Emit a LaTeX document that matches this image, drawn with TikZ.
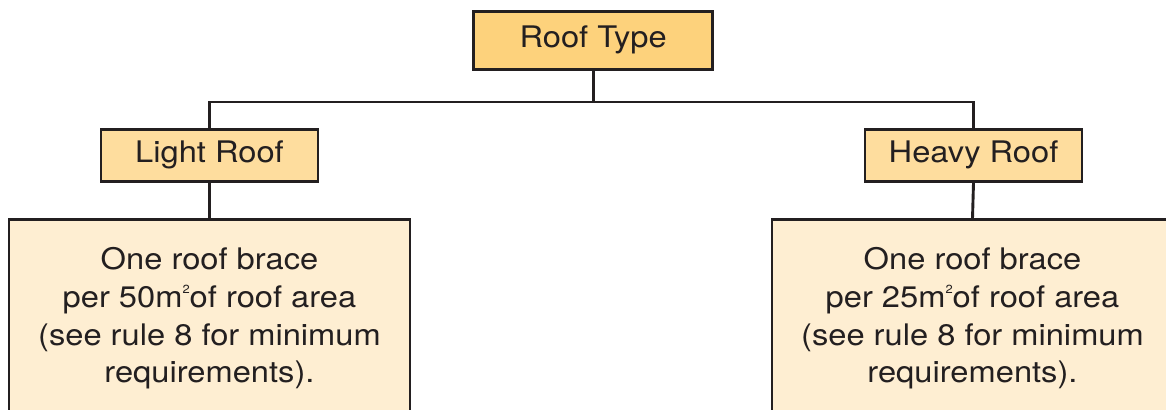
\documentclass[tikz,border=0pt]{standalone}
\usepackage{fontspec}
\setmainfont{TeX Gyre Heros}[FakeStretch=1.1]
\definecolor{linecol}{HTML}{231F20}
\definecolor{topfill}{HTML}{FDD27C}
\definecolor{midfill}{HTML}{FEDD9E}
\definecolor{leaffill}{HTML}{FEEED2}
\newcommand{\sqm}{m\raisebox{8pt}{\fontsize{6.7pt}{7pt}\selectfont 2}}
\begin{document}
\begin{tikzpicture}[x=0.02cm,y=-0.02cm,
  every node/.style={font=\fontsize{16.9pt}{21.4pt}\selectfont, text=linecol},
  box/.style={draw=linecol, line width=1.65pt, inner sep=0pt, align=center},
  topbox/.style={box, fill=topfill, minimum width=4.78cm, minimum height=1.16cm},
  midbox/.style={box, fill=midfill, minimum width=4.34cm, minimum height=1.05cm},
  leafbox/.style={box, fill=leaffill, minimum width=8.02cm, minimum height=3.96cm},
  conn/.style={draw=linecol, line width=1.65pt}]
\useasboundingbox (0,0) rectangle (1166,409);
\clip (0,0) rectangle (1166,409);
\node[topbox] (rt) at (593.2,40.2) {Roof Type};
\node[midbox] (lr) at (209.5,155.3) {Light Roof};
\node[midbox] (hr) at (973.5,155.3) {Heavy Roof};
\node[leafbox] (lb) at (209.5,318.5) {One roof brace\\per 50\sqm of roof area\\(see rule 8 for minimum\\requirements).};
\node[leafbox] (hb) at (972.5,318.5) {One roof brace\\per 25\sqm of roof area\\(see rule 8 for minimum\\requirements).};
\coordinate (bus) at (0,102);
\draw[conn] (rt.south) -- (rt.south |- bus) -| (lr.north);
\draw[conn] (rt.south |- bus) -| (hr.north);
\draw[conn] (lr.south) -- (lb.north);
\draw[conn] (hr.south) -- (hb.north);
\end{tikzpicture}
\end{document}
